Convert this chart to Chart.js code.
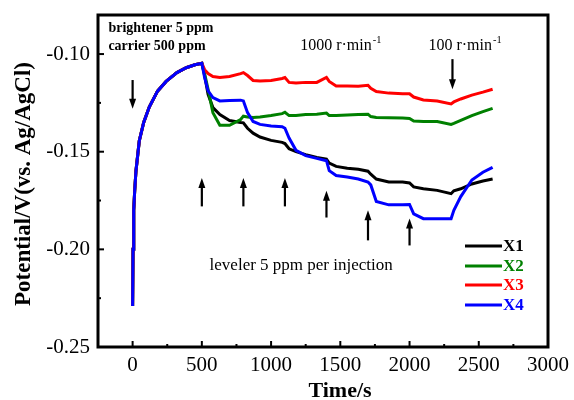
<!DOCTYPE html>
<html>
<head>
<meta charset="utf-8">
<script src="https://cdn.jsdelivr.net/npm/chart.js@4/dist/chart.umd.min.js"></script>
<style>
    html, body { margin: 0; padding: 0; background: #fff; }
</style>
</head>
<body>
<canvas id="chart" width="574" height="400"></canvas>
<script>
'use strict';

// shared rise after brightener/carrier addition (0 - 500 s)
const riseTime = [0, 3, 8, 15, 24, 48, 80, 121, 180, 242, 320, 387, 450];
const riseV    = [-0.229, -0.200, -0.180, -0.170, -0.160, -0.1445, -0.135, -0.127, -0.119, -0.114, -0.1095, -0.107, -0.1055];

// leveler injection phase (500 - 2600 s)
const timeS = [500, 520, 545, 580, 630, 700, 780, 800, 830, 870, 920, 1000, 1080, 1100, 1130, 1180, 1250, 1330,
    1400, 1420, 1470, 1550, 1630, 1700, 1720, 1760, 1850, 1950, 2000, 2030, 2100, 2200, 2300, 2320, 2370, 2450, 2530, 2600];

const x1 = [-0.1047, -0.111, -0.1206, -0.1274, -0.131, -0.134, -0.135, -0.1352, -0.138, -0.1405, -0.1425, -0.1442, -0.1452, -0.1458, -0.1485, -0.150, -0.1515, -0.153,
    -0.1538, -0.1558, -0.1575, -0.1585, -0.159, -0.160, -0.1615, -0.164, -0.1655, -0.1655, -0.166, -0.168, -0.169, -0.1698, -0.1715, -0.170, -0.169, -0.1665, -0.165, -0.164];
const x2 = [-0.1047, -0.110, -0.118, -0.130, -0.1365, -0.1365, -0.1335, -0.1318, -0.1322, -0.1325, -0.1322, -0.1315, -0.1305, -0.1298, -0.1315, -0.1315, -0.131, -0.1308,
    -0.1302, -0.1315, -0.1315, -0.1312, -0.131, -0.1308, -0.132, -0.1325, -0.1326, -0.1328, -0.133, -0.1343, -0.1345, -0.1345, -0.136, -0.1355, -0.134, -0.1315, -0.1295, -0.1278];
const x3 = [-0.1047, -0.108, -0.110, -0.1115, -0.112, -0.1115, -0.110, -0.1095, -0.111, -0.1135, -0.1138, -0.1135, -0.1125, -0.112, -0.1145, -0.1148, -0.1145, -0.1145,
    -0.112, -0.114, -0.1163, -0.1163, -0.1165, -0.116, -0.1175, -0.1192, -0.120, -0.1203, -0.1203, -0.122, -0.1235, -0.124, -0.1255, -0.1245, -0.123, -0.121, -0.1195, -0.118];
const x4 = [-0.1047, -0.112, -0.1189, -0.1223, -0.124, -0.1238, -0.1236, -0.124, -0.130, -0.1345, -0.136, -0.1368, -0.1372, -0.138, -0.143, -0.1493, -0.152, -0.1534,
    -0.1546, -0.1597, -0.1622, -0.163, -0.164, -0.1655, -0.167, -0.1755, -0.1772, -0.1772, -0.177, -0.1818, -0.1843, -0.1843, -0.1843, -0.180, -0.173, -0.1645, -0.1605, -0.158];

const seriesNames  = ['X1', 'X2', 'X3', 'X4'];
const seriesColors = ['#000000', '#008000', '#ff0000', '#0000ff'];
const seriesValues = [x1, x2, x3, x4];

const xTickLabels = [0, 500, 1000, 1500, 2000, 2500, 3000];
const yTickLabels = [-0.25, -0.20, -0.15, -0.10];

const injectionTimes = [500, 800, 1100, 1400, 1700, 2000];

const SERIF = '"Liberation Serif", "Times New Roman", serif';

// arrows in data units: [from, to] (head at "to")
const injectionArrows = [
    [-0.178, -0.1635], [-0.178, -0.1635], [-0.178, -0.1635],
    [-0.1837, -0.170], [-0.1954, -0.180], [-0.198, -0.1842]
];
const downArrows = [[0, -0.1133, -0.128], [2310, -0.1026, -0.118]];

function buildPoints(vals) {
    const pts = riseTime.map((t, i) => ({ x: t, y: riseV[i] }));
    return pts.concat(timeS.map((t, i) => ({ x: t, y: vals[i] })));
}

function arrow(ctx, px, y0, y1) {
    const dir = y1 > y0 ? 1 : -1;
    ctx.beginPath();
    ctx.moveTo(px, y0);
    ctx.lineTo(px, y1 - dir * 8);
    ctx.stroke();
    ctx.beginPath();
    ctx.moveTo(px, y1);
    ctx.lineTo(px - 3.5, y1 - dir * 10);
    ctx.lineTo(px + 3.5, y1 - dir * 10);
    ctx.closePath();
    ctx.fill();
}

function textWithSup(ctx, main, sup, cx, cy, size) {
    ctx.font = `${size}px ${SERIF}`;
    const w1 = ctx.measureText(main).width;
    ctx.font = `${size * 0.65}px ${SERIF}`;
    const w2 = ctx.measureText(sup).width;
    const left = cx - (w1 + w2) / 2;
    ctx.textAlign = 'left';
    ctx.font = `${size}px ${SERIF}`;
    ctx.fillText(main, left, cy);
    ctx.font = `${size * 0.65}px ${SERIF}`;
    ctx.fillText(sup, left + w1 + 1, cy - size * 0.38);
}

const framePlugin = {
    id: 'frame',
    afterDraw(chart) {
        const { ctx, chartArea: a, scales: { x, y } } = chart;
        ctx.save();
        ctx.strokeStyle = '#000';
        ctx.fillStyle = '#000';

        // inward ticks
        ctx.lineWidth = 2;
        x.ticks.forEach(t => {
            const v = Math.round(t.value);
            if (v % 250 !== 0 || v <= x.min || v >= x.max) return;
            const px = x.getPixelForValue(t.value);
            const len = v % 500 === 0 ? 6 : 3;
            ctx.beginPath(); ctx.moveTo(px, a.bottom); ctx.lineTo(px, a.bottom - len); ctx.stroke();
        });
        y.ticks.forEach(t => {
            const v = Math.round(t.value * 1000);
            if (v % 25 !== 0 || t.value <= y.min || t.value >= y.max) return;
            const py = y.getPixelForValue(t.value);
            const len = v % 50 === 0 ? 6 : 3;
            ctx.beginPath(); ctx.moveTo(a.left, py); ctx.lineTo(a.left + len, py); ctx.stroke();
        });

        ctx.lineWidth = 3;
        ctx.strokeRect(a.left, a.top, a.width, a.height);

        // arrows
        ctx.lineWidth = 2.2;
        injectionTimes.forEach((t, i) => {
            arrow(ctx, x.getPixelForValue(t), y.getPixelForValue(injectionArrows[i][0]), y.getPixelForValue(injectionArrows[i][1]));
        });
        downArrows.forEach(([t, from, to]) => {
            arrow(ctx, x.getPixelForValue(t), y.getPixelForValue(from), y.getPixelForValue(to));
        });

        // annotations
        ctx.textBaseline = 'middle';
        ctx.textAlign = 'left';
        ctx.font = `bold 14px ${SERIF}`;
        ctx.fillText('brightener 5 ppm', x.getPixelForValue(-175), y.getPixelForValue(-0.0867));
        ctx.fillText('carrier 500 ppm', x.getPixelForValue(-175), y.getPixelForValue(-0.0963));
        textWithSup(ctx, '1000 r\u00b7min', '-1', x.getPixelForValue(1500), y.getPixelForValue(-0.0958), 16);
        textWithSup(ctx, '100 r\u00b7min', '-1', x.getPixelForValue(2397), y.getPixelForValue(-0.0958), 16);
        ctx.textAlign = 'left';
        ctx.font = `17px ${SERIF}`;
        ctx.fillText('leveler 5 ppm per injection', x.getPixelForValue(556), y.getPixelForValue(-0.2082));

        // legend
        const legX = 465, legY = [246, 266, 285, 305];
        seriesNames.forEach((name, i) => {
            ctx.strokeStyle = seriesColors[i];
            ctx.fillStyle = seriesColors[i];
            ctx.lineWidth = 3;
            ctx.beginPath(); ctx.moveTo(legX, legY[i]); ctx.lineTo(legX + 37, legY[i]); ctx.stroke();
            ctx.font = `bold 17px ${SERIF}`;
            ctx.fillText(name, legX + 38, legY[i] + 1);
        });

        // axis titles
        ctx.fillStyle = '#000';
        ctx.font = `bold 22px ${SERIF}`;
        ctx.textAlign = 'center';
        ctx.textBaseline = 'alphabetic';
        ctx.fillText('Time/s', 340, 397);
        ctx.translate(30, 184);
        ctx.rotate(-Math.PI / 2);
        ctx.font = `bold 23px ${SERIF}`;
        ctx.fillText('Potential/V(vs. Ag/AgCl)', 0, 0);
        ctx.restore();
    }
};

new Chart(document.getElementById('chart'), {
    type: 'line',
    data: {
        datasets: seriesNames.map((name, i) => ({
            label: name,
            data: buildPoints(seriesValues[i]),
            borderColor: seriesColors[i],
            borderWidth: 3,
            pointRadius: 0,
            tension: 0,
            fill: false,
            order: 3 - i
        }))
    },
    options: {
        responsive: false,
        animation: false,
        devicePixelRatio: 1,
        layout: { padding: { left: 0, top: 15, right: 26, bottom: 0 } },
        plugins: { legend: { display: false }, tooltip: { enabled: false } },
        scales: {
            x: {
                type: 'linear',
                min: -250,
                max: 3000,
                afterFit: s => { s.height = 53; s.paddingLeft = 0; s.paddingRight = 0; },
                border: { display: false },
                grid: { display: false, drawTicks: false },
                ticks: {
                    stepSize: 250,
                    padding: 6,
                    autoSkip: false,
                    maxRotation: 0,
                    color: '#000',
                    font: { family: SERIF, size: 21 },
                    callback: v => xTickLabels.includes(Math.round(v)) ? String(Math.round(v)) : ''
                }
            },
            y: {
                min: -0.25,
                max: -0.08,
                afterFit: s => { s.width = 98; s.paddingTop = 0; s.paddingBottom = 0; },
                border: { display: false },
                grid: { display: false, drawTicks: false },
                ticks: {
                    stepSize: 0.025,
                    padding: 8,
                    autoSkip: false,
                    color: '#000',
                    font: { family: SERIF, size: 21 },
                    callback: v => yTickLabels.some(l => Math.abs(l - v) < 1e-6) ? v.toFixed(2) : ''
                }
            }
        }
    },
    plugins: [framePlugin]
});
</script>
</body>
</html>
